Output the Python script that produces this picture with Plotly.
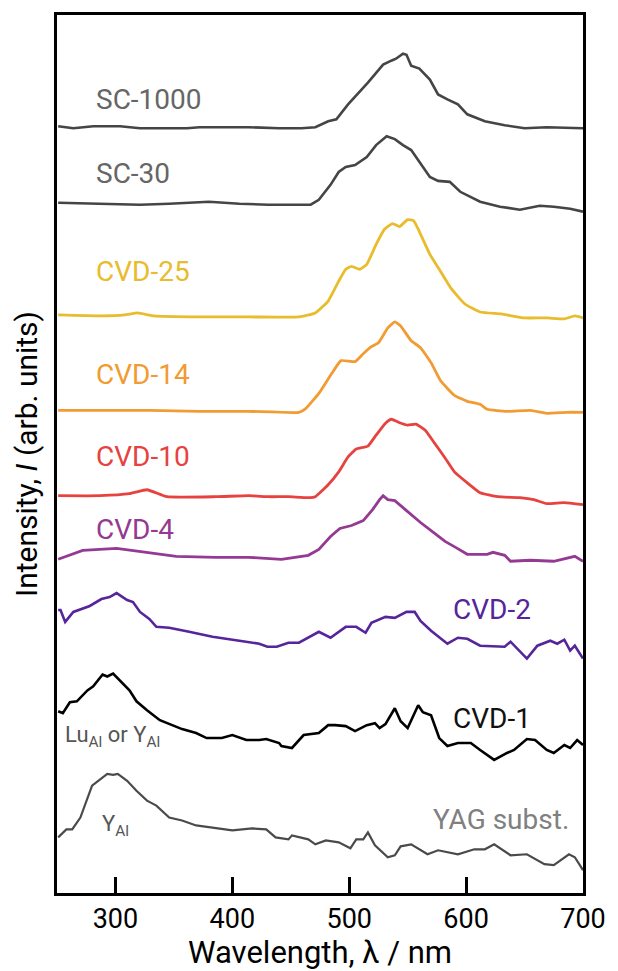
import plotly.graph_objects as go

# Photoluminescence spectra, stacked with vertical offsets (arb. units)
sc1000_wl = [251, 264, 281, 304, 321, 342, 361, 372, 389, 414, 440, 459, 471, 482, 489, 499, 516, 529, 536, 540, 546, 549, 553, 560, 569, 576, 584, 593, 601, 616, 633, 650, 669, 697, 700]
sc1000_int = [772, 770, 772, 772, 770, 770, 770, 771, 771, 771, 770, 770, 771, 777, 779, 794, 816, 834, 838, 840, 845, 844, 833, 830, 819, 804, 799, 794, 784, 777, 773, 770, 771, 770, 770]

sc30_wl = [251, 287, 321, 346, 380, 406, 431, 457, 467, 474, 484, 491, 497, 505, 515, 523, 532, 539, 546, 553, 561, 569, 576, 586, 595, 612, 629, 646, 663, 675, 689, 700]
sc30_int = [695, 694, 693, 694, 696, 694, 693, 693, 693, 698, 713, 726, 731, 733, 741, 753, 762, 759, 753, 748, 734, 721, 717, 716, 706, 696, 691, 688, 692, 691, 689, 686]

cvd25_wl = [251, 287, 308, 319, 333, 372, 414, 457, 471, 482, 491, 497, 502, 509, 515, 523, 530, 537, 543, 550, 555, 560, 569, 577, 587, 599, 612, 630, 650, 669, 684, 693, 700]
cvd25_int = [582, 581, 582, 584, 581, 580, 580, 580, 584, 596, 616, 628, 631, 628, 633, 653, 668, 674, 671, 678, 677, 666, 643, 628, 609, 593, 585, 583, 579, 579, 578, 581, 579]

cvd14_wl = [251, 287, 329, 372, 414, 457, 463, 474, 485, 493, 505, 512, 519, 525, 533, 539, 544, 553, 561, 570, 578, 590, 601, 612, 618, 635, 655, 669, 686, 700]
cvd14_int = [486, 486, 486, 485, 485, 484, 488, 503, 523, 536, 535, 543, 550, 554, 569, 575, 571, 556, 549, 534, 516, 501, 495, 492, 487, 485, 486, 483, 484, 484]

cvd10_wl = [251, 287, 312, 327, 344, 386, 414, 431, 448, 465, 471, 482, 491, 499, 506, 516, 523, 531, 536, 542, 550, 557, 565, 573, 582, 590, 601, 612, 627, 646, 658, 669, 684, 700]
cvd10_int = [400, 400, 402, 406, 399, 399, 400, 399, 399, 398, 399, 411, 424, 439, 447, 450, 461, 473, 477, 474, 471, 472, 466, 453, 438, 424, 413, 403, 399, 398, 396, 392, 393, 391]

cvd4_wl = [251, 272, 301, 329, 352, 386, 414, 442, 465, 474, 484, 492, 502, 512, 520, 526, 529, 533, 539, 548, 555, 561, 572, 582, 591, 601, 618, 623, 633, 638, 655, 675, 693, 700]
cvd4_int = [336, 345, 347, 343, 339, 338, 338, 336, 340, 346, 359, 367, 370, 375, 386, 396, 400, 396, 395, 386, 379, 373, 363, 354, 348, 341, 341, 343, 340, 334, 335, 334, 339, 334]

cvd2_wl = [251, 253, 257, 264, 278, 288, 295, 301, 310, 315, 321, 329, 335, 346, 363, 383, 406, 423, 430, 438, 448, 457, 474, 484, 497, 506, 514, 519, 531, 539, 549, 556, 561, 570, 584, 593, 601, 612, 633, 638, 652, 661, 672, 678, 684, 689, 693, 700]
cvd2_int = [285, 285, 273, 283, 289, 296, 298, 302, 295, 293, 283, 276, 268, 267, 263, 258, 254, 251, 248, 248, 252, 252, 263, 257, 268, 268, 262, 272, 278, 277, 283, 283, 274, 264, 251, 257, 256, 249, 248, 253, 236, 249, 254, 251, 255, 244, 249, 236]

cvd1_wl = [251, 255, 261, 267, 276, 281, 289, 293, 298, 305, 312, 318, 327, 338, 349, 357, 369, 378, 391, 400, 412, 423, 429, 440, 442, 451, 461, 474, 482, 488, 497, 505, 515, 522, 526, 531, 539, 544, 550, 559, 563, 570, 577, 584, 593, 604, 612, 624, 635, 641, 652, 659, 669, 675, 684, 689, 695, 700]
cvd1_int = [183, 181, 192, 193, 204, 208, 220, 218, 221, 213, 204, 193, 184, 174, 169, 165, 161, 156, 156, 159, 154, 154, 155, 151, 148, 146, 159, 161, 169, 169, 168, 163, 169, 171, 166, 170, 186, 173, 166, 189, 182, 179, 156, 148, 151, 151, 144, 134, 141, 144, 155, 154, 144, 141, 149, 146, 154, 149]

yag_wl = [251, 258, 263, 270, 280, 285, 293, 298, 302, 310, 318, 327, 335, 346, 357, 369, 383, 400, 417, 429, 437, 448, 451, 465, 471, 480, 491, 501, 506, 512, 516, 522, 533, 539, 544, 553, 567, 576, 593, 607, 616, 624, 638, 652, 667, 675, 688, 693, 700]
yag_int = [56, 64, 64, 76, 108, 113, 120, 119, 120, 113, 103, 93, 88, 76, 73, 68, 66, 63, 65, 64, 56, 54, 58, 54, 49, 53, 51, 45, 54, 54, 61, 48, 36, 38, 47, 49, 39, 43, 39, 44, 44, 49, 38, 39, 29, 28, 39, 36, 23]

# name, wavelengths, intensities, colour, width, smooth curve?
series = [
    ("SC-1000", sc1000_wl, sc1000_int, "#454545", 2.6, False),
    ("SC-30", sc30_wl, sc30_int, "#454545", 2.6, False),
    ("CVD-25", cvd25_wl, cvd25_int, "#E8BC2C", 2.8, True),
    ("CVD-14", cvd14_wl, cvd14_int, "#F29B32", 2.8, True),
    ("CVD-10", cvd10_wl, cvd10_int, "#E6423F", 2.8, True),
    ("CVD-4", cvd4_wl, cvd4_int, "#943A92", 2.8, False),
    ("CVD-2", cvd2_wl, cvd2_int, "#56259B", 2.6, False),
    ("CVD-1", cvd1_wl, cvd1_int, "#000000", 2.6, False),
    ("YAG subst.", yag_wl, yag_int, "#4a4a4a", 2.2, False),
]

# label text, anchor wavelength, anchor intensity, colour
labels = [
    ("SC-1000", 282, 799, "#666666"),
    ("SC-30", 282, 724, "#666666"),
    ("CVD-25", 282, 626, "#E8BC2C"),
    ("CVD-14", 282, 522, "#F29B32"),
    ("CVD-10", 282, 439, "#E6423F"),
    ("CVD-4", 282, 366, "#943A92"),
    ("CVD-2", 587, 285, "#56259B"),
    ("CVD-1", 587, 176, "#111111"),
    ("YAG subst.", 570, 74, "#808080"),
]

fig = go.Figure()
for name, wl, inten, color, lw, smooth in series:
    line = dict(color=color, width=lw)
    if smooth:
        line.update(shape="spline", smoothing=0.4)
    fig.add_trace(go.Scatter(x=wl, y=inten, mode="lines", name=name, line=line,
                             showlegend=False, hoverinfo="skip"))

for text, lx, ly, color in labels:
    fig.add_annotation(x=lx, y=ly, text=text, showarrow=False, xanchor="left", yanchor="middle",
                       font=dict(family="Roboto", size=28, color=color))

fig.add_annotation(x=255, y=158, text="Lu<sub>Al</sub> or Y<sub>Al</sub>", showarrow=False,
                   xanchor="left", yanchor="middle", font=dict(family="Roboto", size=22, color="#555555"))
fig.add_annotation(x=287, y=68, text="Y<sub>Al</sub>", showarrow=False,
                   xanchor="left", yanchor="middle", font=dict(family="Roboto", size=22, color="#555555"))

fig.update_layout(
    width=618, height=971,
    margin=dict(l=57, r=32, t=12, b=75),
    paper_bgcolor="white", plot_bgcolor="white",
    font=dict(family="Roboto", color="black"),
)
fig.update_xaxes(
    range=[250, 700], tickvals=[300, 400, 500, 600, 700],
    ticks="inside", ticklen=16, tickwidth=2.5, tickcolor="black",
    showline=True, linewidth=3, linecolor="black", mirror=True,
    showgrid=False, zeroline=False,
    tickfont=dict(family="Roboto", size=27, color="black"),
    title=dict(text="Wavelength, λ / nm", font=dict(family="Roboto", size=31, color="black"), standoff=2),
)
fig.update_yaxes(
    range=[0, 884], showticklabels=False, ticks="",
    showline=True, linewidth=3, linecolor="black", mirror=True,
    showgrid=False, zeroline=False,
    title=dict(text="Intensity, <i>I</i> (arb. units)", font=dict(family="Roboto", size=30, color="black"), standoff=8),
)

fig.write_html("out.html")
